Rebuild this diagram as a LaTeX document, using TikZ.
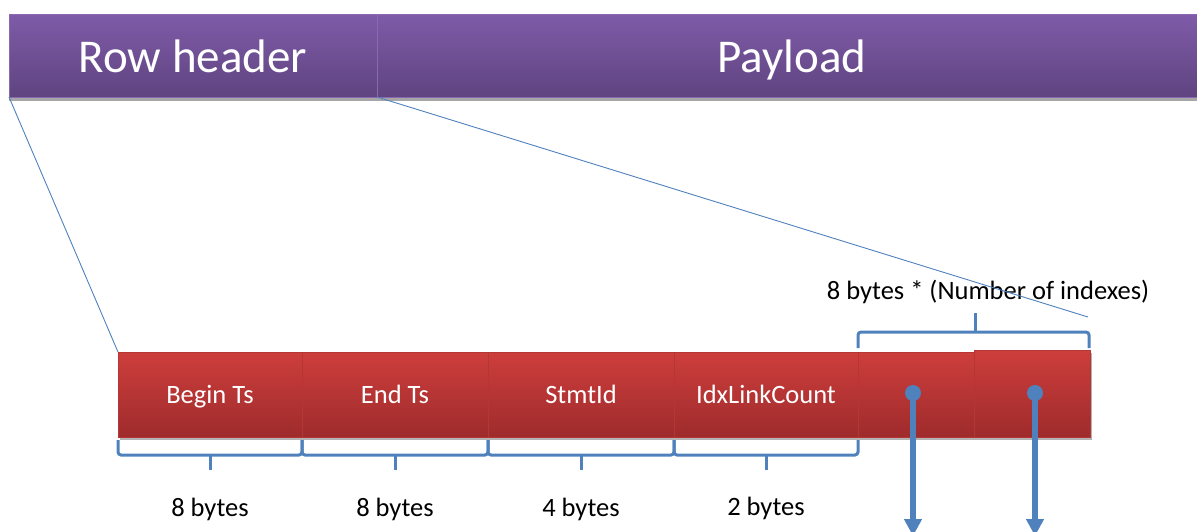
\documentclass[tikz,border=0pt]{standalone}
\usepackage{fontspec}
\setmainfont{Carlito}
\usetikzlibrary{arrows.meta,shadows,calc}
\definecolor{pTop}{HTML}{7F5BA8}
\definecolor{pBot}{HTML}{5F4480}
\definecolor{pLine}{HTML}{8A68B2}
\definecolor{rTop}{HTML}{CD3E3C}
\definecolor{rBot}{HTML}{9F2B2C}
\definecolor{rLine}{HTML}{B53634}
\definecolor{bl}{HTML}{4F81BD}
\tikzset{
  hdrbox/.style={anchor=north west, minimum height=83pt, inner sep=0pt, outer sep=0pt,
    shading=axis, top color=pTop, bottom color=pBot, draw=pLine, line width=0.8pt,
    text=white, font=\fontsize{47}{52}\selectfont, text height=33pt, text depth=0pt,
    drop shadow={shadow xshift=0pt, shadow yshift=-4pt, opacity=.35, fill=black}},
  redbox/.style={anchor=north west, minimum height=85pt, inner sep=0pt, outer sep=0pt,
    shading=axis, top color=rTop, bottom color=rBot, draw=rLine, line width=0.8pt,
    text=white, font=\fontsize{26.5}{30}\selectfont, text height=18pt, text depth=0pt,
    drop shadow={shadow xshift=1.5pt, shadow yshift=-3pt, opacity=.3, fill=black}},
  lbl/.style={text=black, font=\fontsize{26.5}{30}\selectfont, inner sep=0pt,
    text height=18pt, text depth=0pt},
  br/.style={draw=bl, line width=3pt, rounded corners=3pt},
  thin/.style={draw=bl, line width=0.9pt},
  dot/.style={circle, fill=bl, minimum size=16pt, inner sep=0pt},
  ptr/.style={draw=bl, line width=5.5pt, -{Triangle[width=17pt,length=17pt]}}
}
\newcommand{\sqbrace}[1]{%
  \draw[br] ([yshift=-3pt]#1.south west) -- ([yshift=-18pt]#1.south west)
    -- ([yshift=-18pt]#1.south east) -- ([yshift=-3pt]#1.south east);
  \draw[br] ([yshift=-17pt]#1.south) -- ([yshift=-33pt]#1.south);}
\begin{document}
\begin{tikzpicture}[x=1pt,y=-1pt]
\useasboundingbox (0,0) rectangle (1197,531);
% header bar
\node[hdrbox, minimum width=830pt] (pay) at (377,14) {Payload};
\node[hdrbox, minimum width=368pt] (hdr) at (9,14) {Row header};
% fields
\node[redbox, minimum width=184pt] (b1) at (118,352) {Begin Ts};
\node[redbox, minimum width=186pt] (b2) at (302,352) {End Ts};
\node[redbox, minimum width=186pt] (b3) at (488,352) {StmtId};
\node[redbox, minimum width=184pt] (b4) at (674,352) {IdxLinkCount};
\node[redbox, minimum width=116pt] (r1) at (858,352) {};
\node[redbox, minimum width=116pt, minimum height=87pt] (r2) at (974,350) {};
% zoom lines
\coordinate (pe) at (1088,317);
\draw[thin] (hdr.south west) -- (b1.north west);
% braces below
\sqbrace{b1}\sqbrace{b2}\sqbrace{b3}\sqbrace{b4}
\node[lbl] (l1) at ($(b1.south)+(0,-70pt)$) {8 bytes};
\node[lbl] (l2) at ($(b2.south)+(0,-70pt)$) {8 bytes};
\node[lbl] (l3) at ($(b3.south)+(0,-70pt)$) {4 bytes};
\node[lbl] (l4) at ($(b4.south)+(0,-69pt)$) {2 bytes};
% top brace
\coordinate (tl) at (858,348);
\coordinate (tr) at (1089,348);
\draw[br] (tl) -- (858,332) -- (1089,332) -- (tr);
\draw[br] (975,333) -- (975,313);
\node[lbl] (lt) at (988,290) {8 bytes * (Number of indexes)};
\draw[thin] (pay.south west) -- (pe);
% pointers
\node[dot] (d1) at (913,393) {};
\node[dot] (d2) at (1035,393) {};
\coordinate (e1) at (913,536);
\coordinate (e2) at (1035,536);
\draw[ptr] (d1.center) -- (e1);
\draw[ptr] (d2.center) -- (e2);
\end{tikzpicture}
\end{document}
